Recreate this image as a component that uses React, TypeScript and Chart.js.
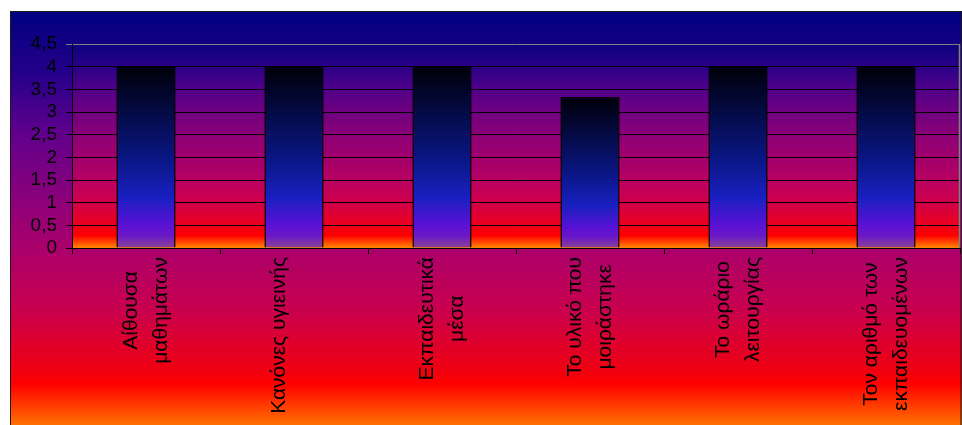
import React, { useEffect, useRef } from "react";
import { Chart, registerables } from "chart.js";

Chart.register(...registerables);

const categories: string[][] = [
  ["Αίθουσα", "μαθημάτων"],
  ["Κανόνες υγιεινής"],
  ["Εκπαιδευτικά", "μέσα"],
  ["Το υλικό που", "μοιράστηκε"],
  ["Το ωράριο", "λειτουργίας"],
  ["Τον αριθμό των", "εκπαιδευομένων"],
];
const values: number[] = [4, 4, 4, 3.33, 4, 4];
const yTickLabels: string[] = ["0", "0,5", "1", "1,5", "2", "2,5", "3", "3,5", "4", "4,5"];

const FONT = "'Liberation Sans', Arial, sans-serif";

const backgroundPlugin = {
  id: "bgPlugin",
  beforeDraw(chart: any) {
    const ctx = chart.ctx;
    const { left, top, right, bottom } = chart.chartArea;
    ctx.save();
    const og = ctx.createLinearGradient(0, 11, 0, 425);
    og.addColorStop(0, "#000080");
    og.addColorStop(0.15, "#24008a");
    og.addColorStop(0.3, "#62008c");
    og.addColorStop(0.57, "#aa006c");
    og.addColorStop(0.72, "#c8004e");
    og.addColorStop(0.87, "#f00010");
    og.addColorStop(0.9, "#ff0000");
    og.addColorStop(1, "#ff7000");
    ctx.fillStyle = og;
    ctx.fillRect(10, 11, 952, 420);
    ctx.strokeStyle = "#1a1a1a";
    ctx.lineWidth = 1;
    ctx.strokeRect(10.5, 11.5, 950.5, 430);
    const pg = ctx.createLinearGradient(0, top, 0, bottom);
    pg.addColorStop(0, "#0c0080");
    pg.addColorStop(0.11, "#2a0088");
    pg.addColorStop(0.22, "#500088");
    pg.addColorStop(0.33, "#6e0080");
    pg.addColorStop(0.44, "#8a0078");
    pg.addColorStop(0.56, "#a2006c");
    pg.addColorStop(0.67, "#b80060");
    pg.addColorStop(0.78, "#d0004a");
    pg.addColorStop(0.88, "#ea0020");
    pg.addColorStop(0.94, "#ff0000");
    pg.addColorStop(1, "#ff8a00");
    ctx.fillStyle = pg;
    ctx.fillRect(left, top, right - left, bottom - top);
    ctx.restore();
  },
  beforeDatasetsDraw(chart: any) {
    const ctx = chart.ctx;
    const { top, right, bottom } = chart.chartArea;
    ctx.save();
    ctx.strokeStyle = "#808080";
    ctx.lineWidth = 1.5;
    ctx.beginPath();
    ctx.moveTo(right - 0.5, top);
    ctx.lineTo(right - 0.5, bottom);
    ctx.stroke();
    ctx.restore();
  },
  afterDraw(chart: any) {
    const ctx = chart.ctx;
    const xs = chart.scales.x;
    const blockTop = chart.chartArea.bottom + 9;
    ctx.save();
    ctx.font = `21px ${FONT}`;
    ctx.fillStyle = "#000";
    ctx.textAlign = "center";
    ctx.textBaseline = "middle";
    categories.forEach((lines, i) => {
      const cx = xs.getPixelForValue(i);
      const maxW = Math.max(...lines.map((l) => ctx.measureText(l).width));
      lines.forEach((line, j) => {
        ctx.save();
        ctx.translate(cx + (j - 0.5) * 30, blockTop + maxW / 2);
        ctx.rotate(-Math.PI / 2);
        ctx.fillText(line, 0, 0);
        ctx.restore();
      });
    });
    ctx.restore();
  },
};

function barGradient(c: any) {
  const chart = c.chart;
  if (!chart.chartArea || c.raw === undefined) return "#0a1a90";
  const ys = chart.scales.y;
  const top = ys.getPixelForValue(c.raw);
  const bottom = ys.getPixelForValue(0);
  const g = chart.ctx.createLinearGradient(0, top, 0, bottom);
  g.addColorStop(0, "#000008");
  g.addColorStop(0.25, "#040a44");
  g.addColorStop(0.5, "#0a1682");
  g.addColorStop(0.72, "#1820c0");
  g.addColorStop(0.87, "#5a10d4");
  g.addColorStop(0.93, "#6a18c8");
  g.addColorStop(1, "#8a4494");
  return g;
}

export default function App() {
  const ref = useRef<HTMLCanvasElement | null>(null);
  useEffect(() => {
    if (!ref.current) return;
    const chart = new Chart(ref.current, {
      type: "bar",
      data: {
        labels: categories,
        datasets: [
          {
            data: values,
            backgroundColor: barGradient as any,
            borderColor: "#000",
            borderWidth: 1.5,
            categoryPercentage: 1,
            barPercentage: 0.4,
          },
        ],
      },
      options: {
        responsive: false,
        animation: false,
        layout: { padding: { left: 10, top: 44, right: 2, bottom: 0 } },
        plugins: { legend: { display: false }, tooltip: { enabled: false } },
        scales: {
          x: {
            afterFit: (s: any) => {
              s.height = 177;
            },
            grid: {
              display: true,
              drawOnChartArea: false,
              drawTicks: true,
              tickLength: 6,
              color: "#000",
              offset: true,
            },
            border: { color: "#000", width: 1 },
            ticks: { display: false },
          },
          y: {
            min: 0,
            max: 4.5,
            afterFit: (s: any) => {
              s.width = 62;
            },
            ticks: {
              stepSize: 0.5,
              autoSkip: false,
              padding: 9,
              color: "#000",
              font: { family: FONT, size: 19 },
              callback: (_v: any, i: number) => yTickLabels[i],
            },
            grid: {
              color: (c: any) => (c.tick && c.tick.value === 4.5 ? "#808080" : "#000"),
              tickLength: 6,
              lineWidth: 1,
            },
            border: { color: "#000", width: 1 },
          },
        },
      },
      plugins: [backgroundPlugin],
    });
    return () => chart.destroy();
  }, []);
  return (
    <div style={{ position: "absolute", left: 0, top: 0 }}>
      <canvas ref={ref} width={962} height={425} style={{ display: "block" }} />
    </div>
  );
}
